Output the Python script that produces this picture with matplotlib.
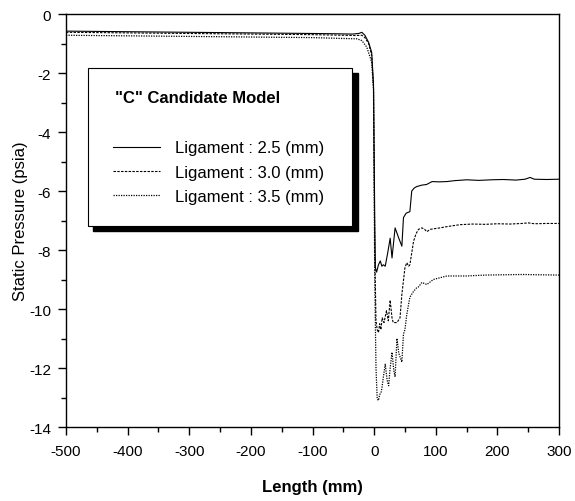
import matplotlib
matplotlib.use("Agg")
import matplotlib.pyplot as plt
from matplotlib.patches import Rectangle

plt.rcParams['font.family'] = ['Liberation Sans', 'DejaVu Sans']
plt.rcParams['axes.unicode_minus'] = False

# ligament 2.5 mm
x_25 = [-500, -450, -400, -350, -300, -250, -200, -150, -100, -60, -35, -25, -20, -15, -9, -4, -1,
        1, 2, 4, 7, 10, 12.5, 15, 18, 22, 26, 29, 34, 40, 45, 47.6, 52, 58, 61, 65, 69, 77.5, 85,
        94, 105, 118, 130, 150, 170, 190, 210, 230, 245, 253, 260, 280, 300]
p_25 = [-0.58, -0.59, -0.60, -0.61, -0.62, -0.63, -0.64, -0.65, -0.66, -0.67, -0.68, -0.66, -0.62,
        -0.72, -0.96, -1.30, -2.40,
        -7.0, -8.6, -8.75, -8.5, -8.37, -8.55, -8.5, -8.55, -8.1, -7.6, -8.27, -7.25, -7.6, -7.87,
        -6.9, -6.75, -6.7, -6.0, -5.9, -5.85, -5.8, -5.78,
        -5.68, -5.69, -5.68, -5.65, -5.62, -5.64, -5.62, -5.61, -5.63, -5.6, -5.54, -5.6, -5.61, -5.6]

# ligament 3.0 mm
x_30 = [-500, -400, -300, -200, -100, -50, -30, -20, -15, -9, -4, -1,
        1, 3, 5, 7, 9, 11, 13, 16, 20, 23, 26, 29, 31, 37, 42, 45, 50, 53, 56, 58, 64, 68, 72,
        77.5, 82, 85.5, 91, 100, 107, 120, 140, 160, 180, 200, 220, 240, 250, 260, 280, 300]
p_30 = [-0.62, -0.64, -0.66, -0.68, -0.70, -0.72, -0.73, -0.72, -0.80, -1.0, -1.4, -2.5,
        -8.0, -10.4, -10.7, -10.8, -10.5, -10.7, -10.3, -10.46, -10.06, -10.4, -9.7, -10.3, -10.46,
        -10.46, -10.3, -9.5, -8.6, -8.43, -8.55, -8.5, -7.7, -7.45, -7.3,
        -7.25, -7.3, -7.38, -7.3, -7.27, -7.25, -7.2, -7.14, -7.12, -7.13, -7.11, -7.12, -7.10,
        -7.08, -7.11, -7.10, -7.10]

# ligament 3.5 mm
x_35 = [-500, -400, -300, -200, -100, -50, -28, -20, -12, -4, -1,
        1, 3, 5, 7, 9, 11, 12.5, 15, 18, 21, 23.5, 26, 29, 32, 34, 37, 40, 45, 47.6, 50, 53, 58,
        64, 69, 72, 77.5, 85.5, 96, 105, 118, 150, 180, 210, 240, 270, 300]
p_35 = [-0.72, -0.74, -0.76, -0.78, -0.80, -0.83, -0.84, -0.90, -1.12, -1.63, -2.6,
        -9.0, -12.0, -13.05, -13.1, -12.9, -12.85, -12.7, -12.3, -11.87, -12.4, -12.6, -12.0,
        -11.47, -12.1, -12.3, -11.0, -11.5, -11.8, -10.85, -10.7, -10.18, -9.6,
        -9.4, -9.28, -9.25, -9.1, -9.17, -9.0, -8.95, -8.88, -8.88, -8.85, -8.84, -8.83, -8.84, -8.85]

labels = ['Ligament : 2.5 (mm)', 'Ligament : 3.0 (mm)', 'Ligament : 3.5 (mm)']

fig = plt.figure(figsize=(5.75, 5.02), dpi=100)
ax = fig.add_axes([0.1148, 0.1474, 0.8574, 0.8227])

ax.plot(x_25, p_25, color='black', lw=0.8, label=labels[0])
ax.plot(x_30, p_30, color='black', lw=0.8, dashes=(2.2, 1.2), label=labels[1])
ax.plot(x_35, p_35, color='black', lw=0.9, dashes=(1.0, 1.0), label=labels[2])

ax.set_xlim(-500, 300)
ax.set_ylim(-14, 0)
ax.set_xticks(range(-500, 301, 100))
ax.set_xticks(range(-450, 300, 100), minor=True)
ax.set_yticks(range(-14, 1, 2))
ax.set_yticks(range(-13, 0, 2), minor=True)
ax.tick_params(which='both', direction='out', top=False, right=False, labelsize=11, width=1)
ax.tick_params(which='major', length=5.8)
ax.tick_params(which='minor', length=3.3)
ax.tick_params(axis='x', which='major', pad=6.5)
ax.tick_params(axis='y', which='major', pad=5)
for s in ax.spines.values():
    s.set_linewidth(1)

ax.set_xlabel('Length (mm)', fontsize=12, fontweight='bold', labelpad=15)
ax.set_ylabel('Static Pressure (psia)', fontsize=12, labelpad=1)

# legend box with drop shadow
shadow = Rectangle((0.0554, 0.474), 0.5376, 0.384, transform=ax.transAxes,
                   facecolor='black', edgecolor='black', zorder=3)
box = Rectangle((0.0452, 0.486), 0.5343, 0.383, transform=ax.transAxes,
                facecolor='white', edgecolor='black', lw=0.8, zorder=4)
ax.add_patch(shadow)
ax.add_patch(box)
ax.text(0.0994, 0.797, '"C" Candidate Model', transform=ax.transAxes, fontsize=12,
        fontweight='bold', va='center', ha='left', zorder=5)
leg = ax.legend(loc='center left', bbox_to_anchor=(0.0953, 0.6169), frameon=False,
                fontsize=12, handlelength=2.8, handletextpad=0.9, labelspacing=0.56,
                borderpad=0, borderaxespad=0)
leg.set_zorder(6)

fig.savefig('out.png', dpi=100)
